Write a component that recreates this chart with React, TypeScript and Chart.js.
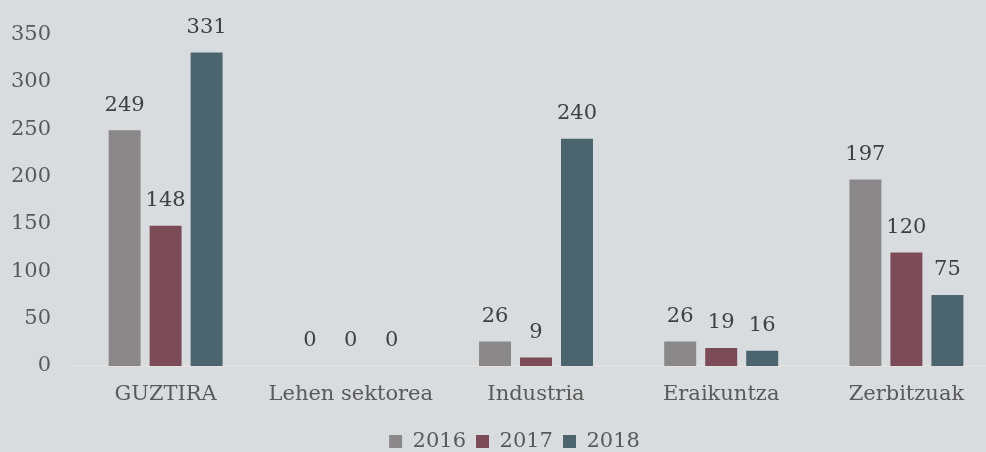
import React, { useEffect, useRef } from "react";
import { Chart, registerables } from "chart.js";

Chart.register(...registerables);

const categories = ["GUZTIRA", "Lehen sektorea", "Industria", "Eraikuntza", "Zerbitzuak"];
const seriesNames = ["2016", "2017", "2018"];
const values2016 = [249, 0, 26, 26, 197];
const values2017 = [148, 0, 9, 19, 120];
const values2018 = [331, 0, 240, 16, 75];
const colors = ["#8a8888", "#7b4b58", "#4b646e"];
const yMin = 0;
const yMax = 350;
const yStep = 50;

const FONT = "'DejaVu Serif', serif";
const FS = 21;
const BG = "#d9dcdf";

const valueLabels = {
  id: "valueLabels",
  afterDatasetsDraw(chart: any) {
    const ctx = chart.ctx;
    ctx.save();
    ctx.font = `${FS}px ${FONT}`;
    ctx.fillStyle = "#404040";
    ctx.textAlign = "center";
    ctx.textBaseline = "middle";
    chart.data.datasets.forEach((ds: any, i: number) => {
      const meta = chart.getDatasetMeta(i);
      meta.data.forEach((el: any, j: number) => {
        ctx.fillText(String(ds.data[j]), el.x, el.y - 25);
      });
    });
    ctx.restore();
  },
};

const legendShift = {
  id: "legendShift",
  afterLayout(chart: any) {
    if (chart.legend) {
      chart.legend.left += 15;
      chart.legend.right += 15;
    }
  },
};

export default function App() {
  const ref = useRef<HTMLCanvasElement>(null);
  useEffect(() => {
    if (!ref.current) return;
    const data = [values2016, values2017, values2018];
    const chart = new Chart(ref.current, {
      type: "bar",
      data: {
        labels: categories,
        datasets: seriesNames.map((name, i) => ({
          label: name,
          data: data[i],
          backgroundColor: colors[i],
          borderWidth: 0,
          barPercentage: 0.78,
          categoryPercentage: 0.664,
        })),
      },
      options: {
        responsive: false,
        animation: false,
        layout: { padding: { top: 33, right: 1, left: 0, bottom: 0 } },
        plugins: {
          legend: {
            position: "bottom",
            maxHeight: 41,
            labels: {
              font: { family: FONT, size: FS },
              color: "#595959",
              boxWidth: 13,
              boxHeight: 13,
              padding: 10,
            },
          },
          tooltip: { enabled: false },
        },
        scales: {
          x: {
            grid: { display: false, drawTicks: false },
            border: { display: true, color: "#e3e0e0", width: 2 },
            ticks: {
              font: { family: FONT, size: FS },
              color: "#595959",
              padding: 16,
              maxRotation: 0,
            },
            afterFit(scale: any) {
              scale.height = 55;
            },
          },
          y: {
            min: yMin,
            max: yMax,
            grid: { display: false, drawTicks: false },
            border: { display: false },
            ticks: {
              stepSize: yStep,
              font: { family: FONT, size: FS },
              color: "#595959",
              padding: 22,
            },
            afterFit(scale: any) {
              scale.width = 73;
            },
          },
        },
      },
      plugins: [valueLabels, legendShift],
    });
    return () => chart.destroy();
  }, []);
  return (
    <div
      style={{
        position: "fixed",
        left: 0,
        top: 0,
        width: 986,
        height: 452,
        overflow: "hidden",
        background: BG,
      }}
    >
      <canvas ref={ref} width={1000} height={462} style={{ display: "block" }} />
    </div>
  );
}
